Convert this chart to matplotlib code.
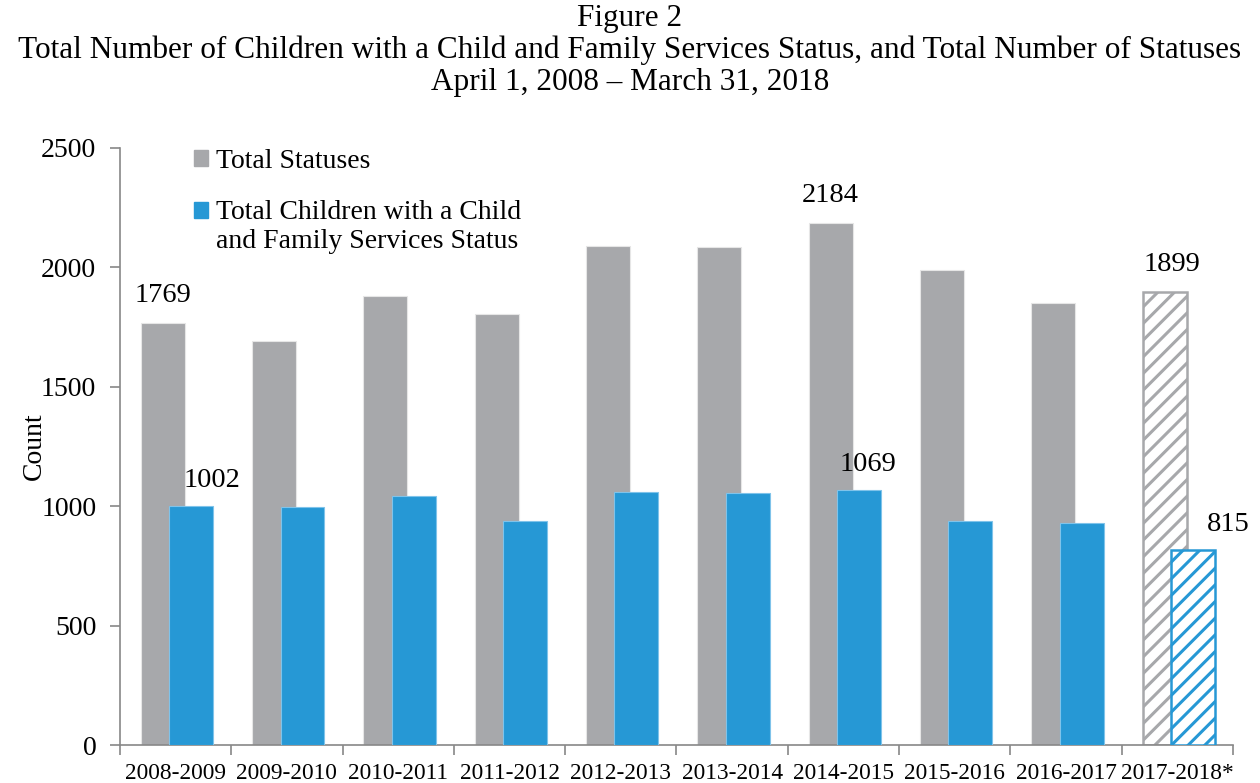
import matplotlib
matplotlib.use('Agg')
import matplotlib.pyplot as plt
from matplotlib.patches import Patch, Rectangle
from matplotlib.legend_handler import HandlerPatch
import numpy as np

plt.rcParams['font.family'] = ['Liberation Serif', 'DejaVu Serif']
plt.rcParams['hatch.linewidth'] = 2.2

years = ['2008-2009', '2009-2010', '2010-2011', '2011-2012', '2012-2013',
         '2013-2014', '2014-2015', '2015-2016', '2016-2017', '2017-2018*']
statuses = [1769, 1693, 1881, 1805, 2090, 2085, 2184, 1991, 1849, 1899]
children = [1002, 998, 1043, 938, 1058, 1055, 1069, 938, 930, 815]

# which bars get a value label, and a nudge (pixels) for each
status_labels = {0: 0, 6: 0, 9: 7}
child_labels = {0: 21, 6: 9, 9: 35}

grey = '#a7a8ab'
blue = '#2698d5'


def top_line_patch(legend, orig_handle, xdescent, ydescent, width, height, fontsize):
    # put the square next to the first line of a two-line label
    return Rectangle((-xdescent, -ydescent + 0.6 * fontsize), width, height)


fig = plt.figure(figsize=(12.6, 7.83), dpi=100)
ax = fig.add_axes([0.0952, 0.0485, 0.8834, 0.7625])

x = np.arange(len(years))
w = 0.395
n_full = len(years) - 1  # last year is partial, drawn hatched

ax.bar(x[:n_full] - 0.115, statuses[:n_full], w, color=grey,
       edgecolor='#e6e6e6', linewidth=0.8, zorder=2)
ax.bar(x[:n_full] + 0.14, children[:n_full], w, color=blue,
       edgecolor='#7fc3ea', linewidth=0.8, zorder=3)
ax.bar(x[n_full:] - 0.115, statuses[n_full:], w, color='white',
       edgecolor=grey, hatch='//', linewidth=1.8, zorder=2)
ax.bar(x[n_full:] + 0.14, children[n_full:], w, color='white',
       edgecolor=blue, hatch='//', linewidth=1.8, zorder=3)

for i, dx in status_labels.items():
    ax.annotate(str(statuses[i]), (x[i] - 0.115, statuses[i]), xytext=(dx, 15),
                textcoords='offset pixels', ha='center', va='bottom', fontsize=20.5)
for i, dx in child_labels.items():
    ax.annotate(str(children[i]), (x[i] + 0.14, children[i]), xytext=(dx, 13),
                textcoords='offset pixels', ha='center', va='bottom', fontsize=20.5)

ax.set_xlim(-0.5, len(years) - 0.5)
ax.set_ylim(0, 2500)
ax.set_yticks(range(0, 2501, 500))
ax.set_xticks(x)
ax.set_xticklabels(years, fontsize=16.8)
ax.set_xticks(np.arange(-0.5, len(years)), minor=True)
ax.tick_params(axis='x', which='major', length=0, pad=13)
ax.tick_params(axis='x', which='minor', length=7, color='#888888', width=1.2)
ax.tick_params(axis='y', length=7, color='#888888', width=1.2, labelsize=20, pad=10)
ax.set_ylabel('Count', fontsize=20, labelpad=-4)

for s in ['top', 'right']:
    ax.spines[s].set_visible(False)
for s in ['left', 'bottom']:
    ax.spines[s].set_color('#888888')
    ax.spines[s].set_linewidth(1.2)

h_status = Patch(color=grey)
h_child = Patch(color=blue)
ax.legend([h_status, h_child],
          ['Total Statuses', 'Total Children with a Child\nand Family Services Status'],
          handler_map={h_child: HandlerPatch(patch_func=top_line_patch)},
          loc='upper left', bbox_to_anchor=(0.044, 1.04),
          frameon=False, fontsize=20, handlelength=0.5, handleheight=0.5,
          handletextpad=0.3, labelspacing=0.95)

fig.text(0.5, 0.977, 'Figure 2', ha='center', va='center', fontsize=22.5)
fig.text(0.5, 0.936, 'Total Number of Children with a Child and Family Services Status, '
         'and Total Number of Statuses', ha='center', va='center', fontsize=22.5)
fig.text(0.5, 0.895, 'April 1, 2008 \u2013 March 31, 2018', ha='center', va='center',
         fontsize=22.5)

fig.savefig('out.png', dpi=100)
